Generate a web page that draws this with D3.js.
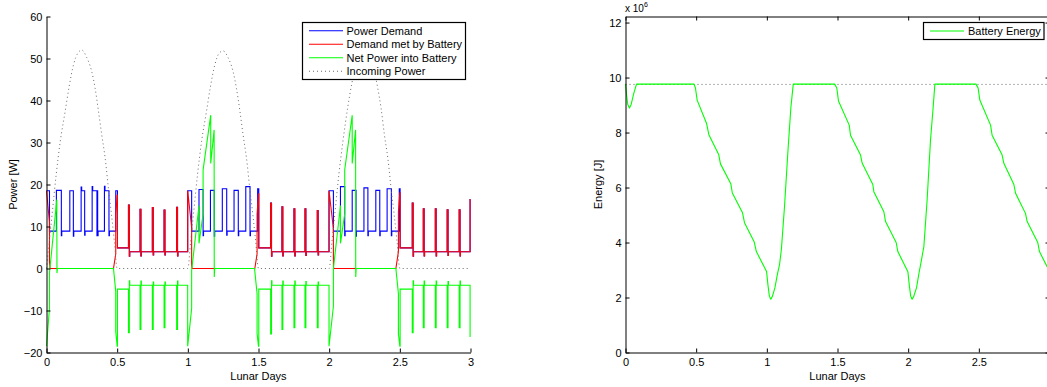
<!DOCTYPE html>
<html><head><meta charset="utf-8">
<script src="https://cdn.jsdelivr.net/npm/d3@7"></script>
<style>
body{margin:0;background:#fff}
svg{display:block}
text{font-family:"Liberation Sans",Arial,Helvetica,sans-serif;font-size:11px;fill:#000}
</style>
</head><body><svg id="c" width="1047" height="387"></svg>
<script>
// ---------- data ----------
const xTicks=[0,0.5,1,1.5,2,2.5,3];
const powerTicks=[-20,-10,0,10,20,30,40,50,60];
const energyTicks=[0,2,4,6,8,10,12];
const powerLegend=["Power Demand","Demand met by Battery","Net Power into Battery","Incoming Power"];
const energyLegend=["Battery Energy"];
const batteryCapacity=9.75; // x10^6 J

const powerDemand=[
[0,18.5],[0.021,18.5],[0.021,8.9],[0.07,8.9],[0.07,18.6],[0.105,18.6],[0.105,7.8],[0.108,7.8],[0.108,8.9],
[0.165,8.9],[0.165,18.5],[0.19,18.5],[0.19,7.7],[0.193,7.7],[0.193,8.9],
[0.245,8.9],[0.245,19.4],[0.249,19.4],[0.249,18.5],[0.27,18.5],[0.27,7.9],[0.273,7.9],[0.273,8.9],
[0.323,8.9],[0.323,19.5],[0.327,19.5],[0.327,18.5],[0.357,18.5],[0.357,7.8],[0.359,7.8],[0.359,18.5],[0.362,18.5],[0.362,7.8],[0.365,7.8],[0.365,8.9],
[0.41,8.9],[0.41,19.6],[0.414,19.6],[0.414,18.5],[0.442,18.5],[0.442,7.8],[0.445,7.8],[0.445,8.9],
[0.49,8.9],[0.49,18.5],[0.502,18.5],[0.502,4.9],
[0.58,4.9],[0.58,15.1],[0.586,15.1],[0.586,2.9],[0.589,2.9],[0.589,4.0],
[0.662,4.0],[0.662,14.1],[0.668,14.1],[0.668,3.0],[0.671,3.0],[0.671,4.0],
[0.749,4.0],[0.749,14.5],[0.755,14.5],[0.755,3.2],[0.758,3.2],[0.758,4.0],
[0.832,4.0],[0.832,13.9],[0.838,13.9],[0.838,3.2],[0.841,3.2],[0.841,4.0],
[0.921,4.0],[0.921,14.6],[0.927,14.6],[0.927,3.0],[0.93,3.0],[0.93,4.0],
[0.999,4.0],[0.999,18.5],
[1.027,18.5],[1.027,8.9],[1.079,8.9],[1.079,18.8],[1.108,18.8],[1.108,7.8],[1.111,7.8],[1.111,8.9],
[1.16,8.9],[1.16,18.6],[1.187,18.6],[1.187,7.7],[1.19,7.7],[1.19,8.9],
[1.244,8.9],[1.244,19.0],[1.275,19.0],[1.275,7.9],[1.278,7.9],[1.278,8.9],
[1.327,8.9],[1.327,18.6],[1.357,18.6],[1.357,7.8],[1.36,7.8],[1.36,8.9],
[1.41,8.9],[1.41,19.5],[1.44,19.5],[1.44,7.8],[1.443,7.8],[1.443,8.9],
[1.494,8.9],[1.494,19.0],[1.502,19.0],[1.502,4.9],
[1.586,4.9],[1.586,15.6],[1.592,15.6],[1.592,2.9],[1.595,2.9],[1.595,4.0],
[1.666,4.0],[1.666,14.7],[1.672,14.7],[1.672,3.0],[1.675,3.0],[1.675,4.0],
[1.751,4.0],[1.751,14.2],[1.757,14.2],[1.757,3.0],[1.76,3.0],[1.76,4.0],
[1.829,4.0],[1.829,14.2],[1.835,14.2],[1.835,3.1],[1.838,3.1],[1.838,4.0],
[1.916,4.0],[1.916,13.8],[1.922,13.8],[1.922,3.2],[1.925,3.2],[1.925,4.0],
[1.999,4.0],[1.999,18.5],
[2.03,18.5],[2.03,8.9],[2.08,8.9],[2.08,19.5],[2.11,19.5],[2.11,7.8],[2.113,7.8],[2.113,8.9],
[2.163,8.9],[2.163,18.6],[2.19,18.6],[2.19,7.7],[2.193,7.7],[2.193,8.9],
[2.246,8.9],[2.246,19.2],[2.274,19.2],[2.274,7.8],[2.277,7.8],[2.277,8.9],
[2.33,8.9],[2.33,18.6],[2.358,18.6],[2.358,7.8],[2.361,7.8],[2.361,8.9],
[2.41,8.9],[2.41,19.0],[2.44,19.0],[2.44,7.8],[2.443,7.8],[2.443,8.9],
[2.496,8.9],[2.496,19.0],[2.502,19.0],[2.502,4.9],
[2.588,4.9],[2.588,15.6],[2.594,15.6],[2.594,2.9],[2.597,2.9],[2.597,4.0],
[2.666,4.0],[2.666,14.2],[2.672,14.2],[2.672,3.0],[2.675,3.0],[2.675,4.0],
[2.751,4.0],[2.751,14.2],[2.757,14.2],[2.757,3.0],[2.76,3.0],[2.76,4.0],
[2.835,4.0],[2.835,14.0],[2.841,14.0],[2.841,3.1],[2.844,3.1],[2.844,4.0],
[2.92,4.0],[2.92,14.0],[2.926,14.0],[2.926,3.0],[2.929,3.0],[2.929,4.0],
[2.997,4.0],[2.997,16.4],[3.0,16.4]
];

const demandMetByBattery=[
[0,18.5],[0.021,11],[0.021,1.5],[0.025,0],[0.474,0],[0.49,3.5],[0.49,13],[0.5,17.5],[0.502,17.5],[0.502,4.9],
[0.58,4.9],[0.58,15.1],[0.586,15.1],[0.586,2.9],[0.589,2.9],[0.589,4.0],
[0.662,4.0],[0.662,14.1],[0.668,14.1],[0.668,3.0],[0.671,3.0],[0.671,4.0],
[0.749,4.0],[0.749,14.5],[0.755,14.5],[0.755,3.2],[0.758,3.2],[0.758,4.0],
[0.832,4.0],[0.832,13.9],[0.838,13.9],[0.838,3.2],[0.841,3.2],[0.841,4.0],
[0.921,4.0],[0.921,14.6],[0.927,14.6],[0.927,3.0],[0.93,3.0],[0.93,4.0],
[0.999,4.0],[0.999,18.5],
[1.027,9.8],[1.027,0.8],[1.03,0],[1.474,0],[1.49,3.5],[1.49,13],[1.5,17.8],[1.502,17.8],[1.502,4.9],
[1.586,4.9],[1.586,15.6],[1.592,15.6],[1.592,2.9],[1.595,2.9],[1.595,4.0],
[1.666,4.0],[1.666,14.7],[1.672,14.7],[1.672,3.0],[1.675,3.0],[1.675,4.0],
[1.751,4.0],[1.751,14.2],[1.757,14.2],[1.757,3.0],[1.76,3.0],[1.76,4.0],
[1.829,4.0],[1.829,14.2],[1.835,14.2],[1.835,3.1],[1.838,3.1],[1.838,4.0],
[1.916,4.0],[1.916,13.8],[1.922,13.8],[1.922,3.2],[1.925,3.2],[1.925,4.0],
[1.999,4.0],[1.999,18.5],
[2.03,9.5],[2.03,0.5],[2.033,0],[2.472,0],[2.49,4],[2.49,13.5],[2.5,18],[2.502,18],[2.502,4.9],
[2.588,4.9],[2.588,15.6],[2.594,15.6],[2.594,2.9],[2.597,2.9],[2.597,4.0],
[2.666,4.0],[2.666,14.2],[2.672,14.2],[2.672,3.0],[2.675,3.0],[2.675,4.0],
[2.751,4.0],[2.751,14.2],[2.757,14.2],[2.757,3.0],[2.76,3.0],[2.76,4.0],
[2.835,4.0],[2.835,14.0],[2.841,14.0],[2.841,3.1],[2.844,3.1],[2.844,4.0],
[2.92,4.0],[2.92,14.0],[2.926,14.0],[2.926,3.0],[2.929,3.0],[2.929,4.0],
[2.997,4.0],[2.997,16.4],[3.0,16.4]
];

const netPowerIntoBattery=[
[0,-18.5],[0.021,-9.5],[0.021,-1],[0.073,16.4],[0.074,-1.1],[0.077,0],[0.474,0],[0.49,-5.5],[0.49,-15],[0.5,-18.5],[0.502,-18.5],[0.502,-4.9],
[0.58,-4.9],[0.58,-15.3],[0.586,-15.3],[0.586,-2.9],[0.589,-2.9],[0.589,-4.0],
[0.662,-4.0],[0.662,-14.5],[0.668,-14.5],[0.668,-3.0],[0.671,-3.0],[0.671,-4.0],
[0.749,-4.0],[0.749,-14.5],[0.755,-14.5],[0.755,-3.2],[0.758,-3.2],[0.758,-4.0],
[0.832,-4.0],[0.832,-14.1],[0.838,-14.1],[0.838,-3.2],[0.841,-3.2],[0.841,-4.0],
[0.921,-4.0],[0.921,-14.5],[0.927,-14.5],[0.927,-3.0],[0.93,-3.0],[0.93,-4.0],
[0.999,-4.0],[0.999,-18.5],
[1.027,-9.5],[1.027,-0.5],[1.079,15],[1.079,6],[1.108,13],[1.108,23.5],[1.162,36.5],[1.162,25],[1.186,33],[1.187,-2],[1.19,0],
[1.472,0],[1.49,-6],[1.49,-15.5],[1.5,-18.5],[1.502,-18.5],[1.502,-4.9],
[1.586,-4.9],[1.586,-15.6],[1.592,-15.6],[1.592,-2.9],[1.595,-2.9],[1.595,-4.0],
[1.666,-4.0],[1.666,-14.5],[1.672,-14.5],[1.672,-3.0],[1.675,-3.0],[1.675,-4.0],
[1.751,-4.0],[1.751,-14.1],[1.757,-14.1],[1.757,-3.0],[1.76,-3.0],[1.76,-4.0],
[1.829,-4.0],[1.829,-14.1],[1.835,-14.1],[1.835,-3.1],[1.838,-3.1],[1.838,-4.0],
[1.916,-4.0],[1.916,-14.1],[1.922,-14.1],[1.922,-3.2],[1.925,-3.2],[1.925,-4.0],
[1.999,-4.0],[1.999,-18.5],
[2.03,-9],[2.03,0],[2.08,15],[2.08,6],[2.11,13],[2.11,23.5],[2.163,36.5],[2.163,25],[2.187,33],[2.188,-2],[2.191,0],
[2.472,0],[2.49,-6],[2.49,-15.5],[2.5,-18.5],[2.502,-18.5],[2.502,-4.9],
[2.588,-4.9],[2.588,-15.3],[2.594,-15.3],[2.594,-2.9],[2.597,-2.9],[2.597,-4.0],
[2.666,-4.0],[2.666,-14.1],[2.672,-14.1],[2.672,-3.0],[2.675,-3.0],[2.675,-4.0],
[2.751,-4.0],[2.751,-14.1],[2.757,-14.1],[2.757,-3.0],[2.76,-3.0],[2.76,-4.0],
[2.835,-4.0],[2.835,-14.1],[2.841,-14.1],[2.841,-3.1],[2.844,-3.1],[2.844,-4.0],
[2.92,-4.0],[2.92,-14.1],[2.926,-14.1],[2.926,-3.0],[2.929,-3.0],[2.929,-4.0],
[2.997,-4.0],[2.997,-16.2],[3.0,-16.2]
];

const incomingPower=[
[0,0],[0.02,6.5],[0.04,13],[0.069,22.5],[0.097,30.2],[0.132,37.4],[0.16,43.3],[0.191,48.5],[0.222,51.3],[0.25,52],
[0.285,50.2],[0.32,46.9],[0.344,42.9],[0.368,37.4],[0.391,31.8],[0.415,26.3],[0.44,18.5],[0.46,12.8],[0.48,6.5],[0.5,0],[1.0,0],
[1.02,6.5],[1.04,13],[1.069,22.5],[1.097,30.2],[1.132,37.4],[1.16,43.3],[1.191,48.5],[1.222,51.3],[1.25,51.8],
[1.285,50.2],[1.32,46.9],[1.344,42.9],[1.368,37.6],[1.391,31.8],[1.415,26.3],[1.44,18.5],[1.46,12.8],[1.48,6.5],[1.5,0],[2.0,0],
[2.02,6.5],[2.04,13],[2.069,22.5],[2.097,30.2],[2.132,38.5],[2.16,44],[2.191,48.5],[2.222,51.3],[2.25,51.8],
[2.285,50.2],[2.32,46.9],[2.344,42.9],[2.368,38],[2.391,31.8],[2.415,26.3],[2.44,18.5],[2.46,12.8],[2.48,6.5],[2.5,0],[3.0,0]
];

const batteryEnergy=[
[0,9.77],[0.008,9.35],[0.016,9.02],[0.028,8.89],[0.04,9.02],[0.059,9.43],[0.078,9.76],
[0.485,9.76],[0.495,9.62],[0.507,9.18],[0.573,8.34],[0.59,7.92],[0.66,7.19],[0.672,6.86],[0.745,6.14],[0.756,5.8],
[0.828,5.08],[0.842,4.72],[0.91,4.03],[0.926,3.67],[0.998,2.95],[1.008,2.45],[1.018,2.05],[1.028,1.94],
[1.04,2.05],[1.057,2.35],[1.075,2.85],[1.09,3.2],[1.103,3.75],[1.125,5.3],[1.149,7.3],[1.17,8.9],[1.187,9.76],
[1.48,9.76],[1.495,9.62],[1.507,9.15],[1.583,8.27],[1.592,7.9],[1.663,7.18],[1.675,6.88],[1.75,6.11],[1.757,5.85],
[1.828,5.12],[1.84,4.76],[1.915,4.0],[1.927,3.67],[1.998,2.94],[2.008,2.45],[2.018,2.05],[2.028,1.94],
[2.04,2.05],[2.059,2.35],[2.077,2.9],[2.09,3.25],[2.111,3.85],[2.134,5.54],[2.158,7.72],[2.177,8.93],[2.189,9.76],
[2.48,9.76],[2.495,9.62],[2.507,9.18],[2.583,8.27],[2.594,7.9],[2.665,7.18],[2.677,6.88],[2.748,6.11],[2.76,5.79],
[2.83,5.06],[2.842,4.76],[2.917,4.0],[2.929,3.67],[2.983,3.12],[3.0,2.92]
];

// ---------- drawing ----------
const svg=d3.select("#c");
const fmt=d3.format("");
const BLUE="#0000ff",RED="#ff0000",GREEN="#00ff00",DOT="#6a6a6a";

function styleAxis(g){g.attr("font-size",null).attr("font-family",null);g.selectAll("path.domain").attr("stroke","#000");g.selectAll(".tick line").attr("stroke","#000");}

// Left chart
const xL=d3.scaleLinear().domain([0,3]).range([46.5,470.5]);
const yL=d3.scaleLinear().domain([-20,60]).range([352.5,16.5]);
const left=svg.append("g");
const lineL=d3.line().x(d=>xL(d[0])).y(d=>yL(d[1]));
left.append("path").datum(powerDemand).attr("d",lineL).attr("fill","none").attr("stroke",BLUE).attr("stroke-width",1.1);
left.append("path").datum(demandMetByBattery).attr("d",lineL).attr("fill","none").attr("stroke",RED).attr("stroke-width",1.1);
left.append("path").datum(netPowerIntoBattery).attr("d",lineL).attr("fill","none").attr("stroke",GREEN).attr("stroke-width",1.1);
left.append("path").datum(incomingPower).attr("d",d3.line().x(d=>xL(d[0])).y(d=>yL(d[1])).curve(d3.curveMonotoneX)).attr("fill","none").attr("stroke",DOT).attr("stroke-width",1).attr("stroke-dasharray","1 3");

left.append("g").attr("transform",`translate(0,${yL(-20)})`)
  .call(d3.axisBottom(xL).tickValues(xTicks).tickFormat(fmt).tickSizeInner(-4).tickSizeOuter(0).tickPadding(6)).call(styleAxis);
left.append("g").attr("transform",`translate(${xL(0)},0)`)
  .call(d3.axisLeft(yL).tickValues(powerTicks).tickFormat(fmt).tickSizeInner(-4).tickSizeOuter(0).tickPadding(4)).call(styleAxis);
left.append("text").attr("x",(xL(0)+xL(3))/2).attr("y",380).attr("text-anchor","middle").text("Lunar Days");
left.append("text").attr("transform",`translate(13.5,${(yL(-20)+yL(60))/2}) rotate(-90)`).attr("text-anchor","middle").attr("dy","0.35em").text("Power [W]");

// left legend
const lg=left.append("g");
lg.append("rect").attr("x",302.5).attr("y",22.5).attr("width",163).attr("height",57).attr("fill","#fff").attr("stroke","#000").attr("stroke-width",1.2);
const legStyles=[{c:BLUE,d:null},{c:RED,d:null},{c:GREEN,d:null},{c:DOT,d:"1 3"}];
powerLegend.forEach((t,i)=>{
  const cy=30.7+i*13.5;
  lg.append("line").attr("x1",309).attr("x2",343).attr("y1",cy).attr("y2",cy).attr("stroke",legStyles[i].c).attr("stroke-width",1.1).attr("stroke-dasharray",legStyles[i].d);
  lg.append("text").attr("x",346.5).attr("y",cy).attr("dy","0.35em").text(t);
});

// Right chart
const xR=d3.scaleLinear().domain([0,3]).range([625.5,1049.5]);
const yR=d3.scaleLinear().domain([0,12.22]).range([352.5,16.5]);
const right=svg.append("g");
const lineR=d3.line().x(d=>xR(d[0])).y(d=>yR(d[1]));
right.append("path").datum([[0,batteryCapacity],[3,batteryCapacity]]).attr("d",lineR).attr("fill","none").attr("stroke",DOT).attr("stroke-width",1).attr("stroke-dasharray","1 3");
right.append("path").datum(batteryEnergy).attr("d",lineR).attr("fill","none").attr("stroke",GREEN).attr("stroke-width",1.1).attr("stroke-linejoin","round");

right.append("g").attr("transform",`translate(0,${yR(0)})`)
  .call(d3.axisBottom(xR).tickValues(xTicks).tickFormat(fmt).tickSizeInner(-4).tickSizeOuter(0).tickPadding(6)).call(styleAxis);
right.append("g").attr("transform",`translate(0,${yR(12.22)})`)
  .call(d3.axisTop(xR).tickValues(xTicks).tickFormat("").tickSizeInner(-4).tickSizeOuter(0)).call(styleAxis);
right.append("g").attr("transform",`translate(${xR(0)},0)`)
  .call(d3.axisLeft(yR).tickValues(energyTicks).tickFormat(fmt).tickSizeInner(-4).tickSizeOuter(0).tickPadding(4)).call(styleAxis);
right.append("g").attr("transform",`translate(${xR(3)},0)`)
  .call(d3.axisRight(yR).tickValues(energyTicks).tickFormat("").tickSizeInner(-4).tickSizeOuter(0)).call(styleAxis);
right.append("text").attr("x",(xR(0)+xR(3))/2).attr("y",380).attr("text-anchor","middle").text("Lunar Days");
right.append("text").attr("transform",`translate(598,${(yR(0)+yR(12.22))/2}) rotate(-90)`).attr("text-anchor","middle").attr("dy","0.35em").text("Energy [J]");
const mult=right.append("text").attr("x",625).attr("y",12).style("font-size","10px");
mult.append("tspan").text("x 10");
mult.append("tspan").attr("dy",-5).style("font-size","7px").text("6");

// right legend
const rg=right.append("g");
rg.append("rect").attr("x",923.5).attr("y",22.5).attr("width",120.5).attr("height",17).attr("fill","#fff").attr("stroke","#000").attr("stroke-width",1.2);
energyLegend.forEach((t,i)=>{
  const cy=31;
  rg.append("line").attr("x1",930).attr("x2",964).attr("y1",cy).attr("y2",cy).attr("stroke",GREEN).attr("stroke-width",1.1);
  rg.append("text").attr("x",968).attr("y",cy).attr("dy","0.35em").text(t);
});
</script>
</body></html>
